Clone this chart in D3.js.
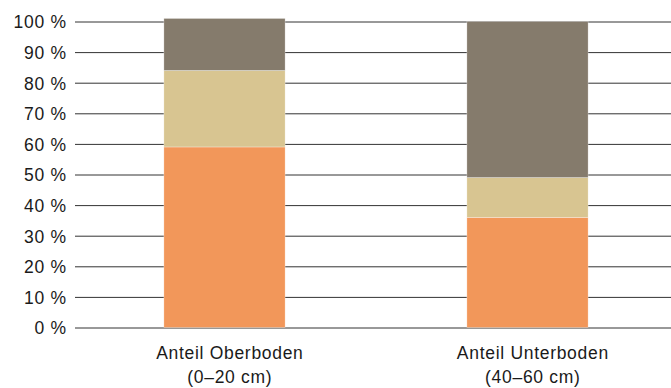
<!DOCTYPE html>
<html>
<head>
<meta charset="utf-8">
<script src="https://cdn.jsdelivr.net/npm/d3@7"></script>
<style>
  html, body { margin: 0; padding: 0; background: #fff; }
  svg { display: block; font-family: "Liberation Sans", Arial, Helvetica, sans-serif; }
</style>
</head>
<body>
<svg id="chart" width="671" height="388"></svg>
<script>
// Soil layers and their stacked shares (in %)
const categoryNames = ["Anteil Oberboden", "Anteil Unterboden"];
const categoryDepths = ["(0–20 cm)", "(40–60 cm)"];
const seriesKeys = ["orange", "beige", "brown"];
const orangeValues = [59, 36];
const beigeValues = [25, 13];
const brownValues = [17, 51];
const seriesColors = ["#F2975A", "#D8C591", "#857B6C"];
const yTicks = [0, 10, 20, 30, 40, 50, 60, 70, 80, 90, 100];

const rows = categoryNames.map((name, i) => ({
  name,
  orange: orangeValues[i],
  beige: beigeValues[i],
  brown: brownValues[i]
}));

const svg = d3.select("#chart");
const W = 671;
const fontSize = 17.5;
const tracking = 0.7;

const x = d3.scaleBand()
  .domain(categoryNames)
  .range([73, 679])
  .paddingInner(0.6)
  .paddingOuter(0.3);

const y = d3.scaleLinear().domain([0, 100]).range([327.5, 21.5]);

const color = d3.scaleOrdinal().domain(seriesKeys).range(seriesColors);

// Horizontal grid lines with percentage labels
const yAxis = d3.axisLeft(y)
  .tickValues(yTicks)
  .tickSize(-(W - 75))
  .tickPadding(9 - tracking)
  .tickFormat(d => d + " %");

const gy = svg.append("g")
  .attr("transform", "translate(75,0)")
  .call(yAxis);
gy.select(".domain").remove();
gy.selectAll(".tick line").attr("stroke", "#333").attr("stroke-width", 1);
gy.selectAll(".tick text")
  .attr("fill", "#1a1a1a")
  .attr("font-size", fontSize)
  .attr("letter-spacing", tracking)
  .attr("dy", "0.36em")
  .attr("font-family", "Liberation Sans, Arial, sans-serif");

// Stacked bars
const stacked = d3.stack().keys(seriesKeys)(rows);

svg.append("g")
  .selectAll("g")
  .data(stacked)
  .join("g")
  .attr("fill", d => color(d.key))
  .selectAll("rect")
  .data(d => d)
  .join("rect")
  .attr("x", d => x(d.data.name))
  .attr("width", x.bandwidth())
  .attr("y", d => y(d[1]))
  .attr("height", d => y(d[0]) - y(d[1]))
  .attr("stroke", "rgba(255,255,255,0.6)")
  .attr("stroke-width", 0.5);

// Category labels (two lines each)
const labelX = d => x(d) + x.bandwidth() / 2 + 5 + tracking / 2;

const labels = svg.append("g")
  .selectAll("text")
  .data(categoryNames)
  .join("text")
  .attr("x", labelX)
  .attr("y", 359)
  .attr("text-anchor", "middle")
  .attr("font-size", fontSize)
  .attr("letter-spacing", tracking)
  .attr("fill", "#1a1a1a");

labels.append("tspan")
  .attr("x", labelX)
  .text(d => d);
labels.append("tspan")
  .attr("x", labelX)
  .attr("dy", 24)
  .text((d, i) => categoryDepths[i]);
</script>
</body>
</html>
